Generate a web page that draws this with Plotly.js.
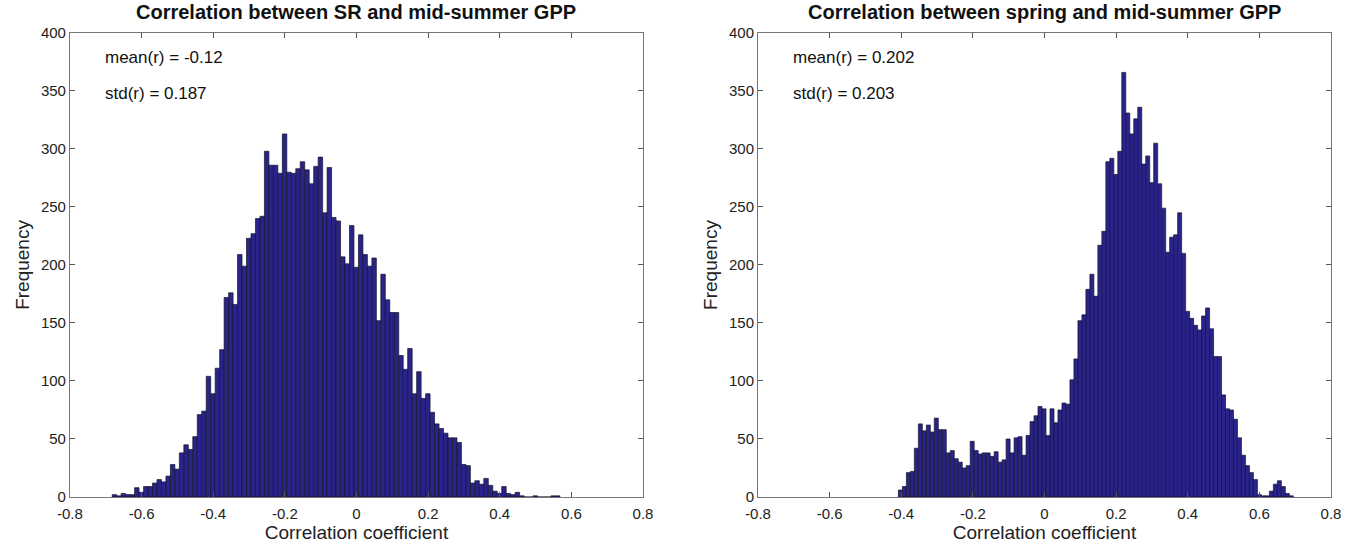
<!DOCTYPE html>
<html><head><meta charset="utf-8">
<script src="https://cdn.plot.ly/plotly-3.0.1.min.js"></script>
<style>html,body{margin:0;padding:0;background:#fff;}</style>
</head><body><div id="chart" style="width:1358px;height:548px;"></div>
<script>
// Left panel: correlation between SR and mid-summer GPP (100 bins)
const srCounts = [2,1,3,2,2,8,4,9,9,12,15,13,18,28,24,38,45,41,52,71,
  74,104,89,111,127,172,176,166,209,199,223,227,240,242,298,286,286,279,313,280,
  279,283,289,282,270,285,293,245,284,241,238,207,201,234,198,226,209,199,206,152,
  192,170,159,159,122,110,128,89,108,85,89,73,63,59,55,51,51,47,28,27,
  12,14,11,16,10,5,3,9,3,2,4,1,0,0,1,0,0,0,1,1];
const srBinStart = -0.682;
const srBinWidth = 0.0125;

// Right panel: correlation between spring and mid-summer GPP (99 bins)
const springCounts = [6,9,21,22,42,63,57,62,56,68,58,58,38,40,33,30,25,27,48,40,
  37,38,38,35,39,30,32,50,38,51,52,36,53,65,70,78,76,53,76,64,
  75,81,80,101,119,152,157,179,192,173,217,229,289,292,278,298,366,331,313,326,
  336,287,294,271,305,270,249,211,224,226,245,210,160,154,148,144,156,163,145,121,
  121,88,76,75,67,51,36,27,21,15,2,1,1,5,11,14,9,3,1];
const springBinStart = -0.408;
const springBinWidth = 0.01114;

const panelTitles = ['Correlation between SR and mid-summer GPP', 'Correlation between spring and mid-summer GPP'];
const meanLabels = ['mean(r) = -0.12', 'mean(r) = 0.202'];
const stdLabels = ['std(r) = 0.187', 'std(r) = 0.203'];
const xTickVals = [-0.8,-0.6,-0.4,-0.2,0,0.2,0.4,0.6,0.8];
const xTickText = ['-0.8','-0.6','-0.4','-0.2','0','0.2','0.4','0.6','0.8'];
const yTickVals = [0,50,100,150,200,250,300,350,400];
const xLabel = 'Correlation coefficient';
const yLabel = 'Frequency';

const barColor = 'rgb(42,36,138)';
const edge = {color: 'rgb(20,20,40)', width: 0.7};
const font = 'Liberation Sans, Arial, sans-serif';

const traces = [
  {type: 'bar', y: srCounts, x0: srBinStart + srBinWidth/2, dx: srBinWidth,
   marker: {color: barColor, line: edge}, xaxis: 'x', yaxis: 'y', hoverinfo: 'skip'},
  {type: 'bar', y: springCounts, x0: springBinStart + springBinWidth/2, dx: springBinWidth,
   marker: {color: barColor, line: edge}, xaxis: 'x2', yaxis: 'y2', hoverinfo: 'skip'}
];

function xa(dom, anchor) {
  return {domain: dom, anchor: anchor, range: [-0.8, 0.8], tickvals: xTickVals, ticktext: xTickText,
    ticks: 'inside', ticklen: 5, tickcolor: '#555', showline: true, linecolor: '#777', linewidth: 1,
    mirror: 'ticks', showgrid: false, zeroline: false, ticklabelstandoff: 3,
    tickfont: {family: font, size: 15, color: '#222'},
    title: {text: xLabel, font: {family: font, size: 19, color: '#222'}, standoff: 2}};
}
function ya(anchor) {
  return {domain: [0.0931, 0.9398], anchor: anchor, range: [0, 400], tickvals: yTickVals,
    ticks: 'inside', ticklen: 5, tickcolor: '#555', showline: true, linecolor: '#777', linewidth: 1,
    mirror: 'ticks', showgrid: false, zeroline: false,
    tickfont: {family: font, size: 15, color: '#222'},
    title: {text: yLabel, font: {family: font, size: 19, color: '#222'}, standoff: 6}};
}

const annotations = [];
[['x', 'y'], ['x2', 'y2']].forEach((ax, i) => {
  annotations.push({xref: ax[0] + ' domain', yref: 'paper', x: 0.5, y: 1 - 12/548,
    xanchor: 'center', yanchor: 'middle', showarrow: false, text: '<b>' + panelTitles[i] + '</b>',
    font: {family: font, size: 20, color: '#111'}});
  annotations.push({xref: ax[0] + ' domain', yref: ax[1] + ' domain', x: 0.058, y: 0.948,
    xanchor: 'left', yanchor: 'middle', showarrow: false, text: meanLabels[i],
    font: {family: font, size: 17, color: '#111'}});
  annotations.push({xref: ax[0] + ' domain', yref: ax[1] + ' domain', x: 0.058, y: 0.869,
    xanchor: 'left', yanchor: 'middle', showarrow: false, text: stdLabels[i],
    font: {family: font, size: 17, color: '#111'}});
});

const layout = {
  width: 1358, height: 548, margin: {l: 0, r: 0, t: 0, b: 0},
  paper_bgcolor: '#fff', plot_bgcolor: '#fff', showlegend: false, bargap: 0,
  xaxis: xa([0.0515, 0.4735], 'y'), yaxis: ya('x'),
  xaxis2: xa([0.5582, 0.9801], 'y2'), yaxis2: ya('x2'),
  annotations: annotations
};

Plotly.newPlot('chart', traces, layout, {displayModeBar: false, staticPlot: true});
</script></body></html>
